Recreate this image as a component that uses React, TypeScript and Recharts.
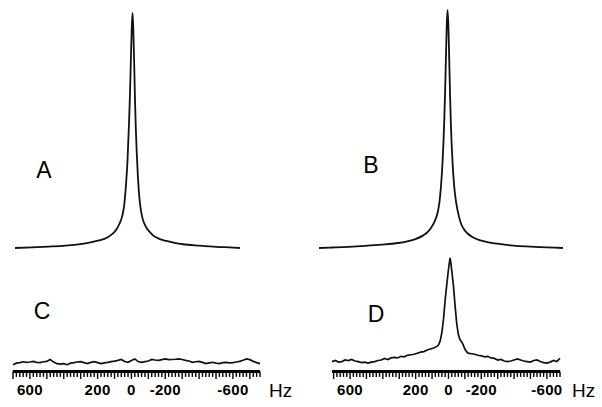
import React from "react";
import { Line, LineChart, XAxis, YAxis } from "recharts";

// spectrum A (top left), intensity in % of peak
const hzA = [700, 600, 500, 400, 300, 250, 200, 150, 120, 100, 80, 60, 50, 40, 30, 20, 15, 10, 5, 0, -5, -10, -15, -20, -30, -40, -50, -60, -80, -100, -120, -150, -200, -250, -300, -400, -500, -600, -640];
const ampA = [0, 0.3, 0.6, 1.0, 1.8, 2.4, 3.2, 4.5, 6, 7.5, 10, 14, 18, 26, 37, 55, 66, 80, 93, 100, 92, 78, 62, 50, 33, 22, 16, 12.5, 9, 7, 5.5, 4.2, 3, 2.2, 1.6, 1.0, 0.5, 0.2, 0];

// spectrum B (top right)
const hzB = [780, 700, 600, 500, 400, 300, 250, 200, 150, 120, 100, 80, 60, 50, 40, 30, 20, 15, 10, 5, 0, -5, -10, -15, -20, -30, -40, -50, -60, -80, -100, -120, -150, -200, -250, -300, -400, -500, -600, -700];
const ampB = [0, 0.2, 0.5, 0.9, 1.4, 2.1, 2.7, 3.6, 5.2, 6.8, 8.5, 11, 15, 19, 26, 37, 54, 66, 80, 94, 100, 93, 79, 64, 52, 36, 26, 20, 16, 10.5, 7.8, 6.2, 4.6, 3.2, 2.4, 1.8, 1.0, 0.6, 0.3, 0];

// spectrum C (bottom left, noise only)
const hzC = [700, 680, 660, 640, 620, 600, 580, 560, 540, 520, 500, 480, 460, 440, 420, 400, 380, 360, 340, 320, 300, 280, 260, 240, 220, 200, 180, 160, 140, 120, 100, 80, 60, 40, 20, 0, -20, -40, -60, -80, -100, -120, -140, -160, -180, -200, -220, -240, -260, -280, -300, -320, -340, -360, -380, -400, -420, -440, -460, -480, -500, -520, -540, -560, -580, -600, -620, -640, -660, -680, -700, -720, -740, -760];
const ampC = [-2, -0.5, 0, 0.8, 0.3, 0.6, 1.2, 0.2, 0, 0.8, 1.2, 3, 0.5, -1, -1.5, -1, -2, -0.5, 0, 0.6, 1, 0, -1, 0.2, 1, 0, -1, -0.2, 0.3, 1, 1.5, 2.2, 3, 1, 0.3, 2, 3.5, 1, 0.3, 1, 1.5, 3, 2.5, 2.2, 2.8, 3.5, 2.8, 3, 3.2, 3.5, 3, 2.2, 1.5, 0.3, 0.8, 1.2, 0.2, -1, -0.2, 0.3, -0.5, -1, 0, 0.3, -0.3, 0, 0.6, 1.2, 2.2, 3.5, 2.8, 1.2, 0, -1];

// spectrum D (bottom right)
const hzD = [710, 690, 670, 650, 630, 610, 590, 570, 550, 530, 510, 490, 470, 450, 430, 410, 390, 370, 350, 330, 310, 290, 270, 250, 230, 210, 190, 170, 150, 130, 110, 90, 70, 60, 50, 40, 30, 20, 10, 0, -5, -10, -15, -20, -30, -40, -50, -60, -70, -80, -90, -100, -110, -120, -140, -160, -180, -200, -220, -240, -260, -280, -300, -320, -340, -360, -380, -400, -420, -440, -460, -480, -500, -520, -540, -560, -580, -600, -620, -640, -660, -680];
const ampD = [1, 2, 0.5, 1, 2.5, 2, 3, 1.5, 1, 0, 0.5, -0.5, 0.5, 1, 2, 2.5, 4, 3, 4.5, 5, 4.5, 6, 5.5, 7, 7.5, 8, 9, 10, 10.5, 12, 13, 14, 15.5, 17, 21, 29, 42, 60, 75, 89, 95, 100, 95, 88, 74, 55, 38, 27, 22, 20, 17, 13, 10.5, 9, 8.5, 8, 7, 6.5, 5.5, 6, 4.5, 4, 2.5, 3, 1.5, 1, 1.5, 2.5, 3.5, 2.5, 1.5, 1, 0.5, 2, 2.5, 1, 0, -0.5, 0.5, 2, 1, 4];

// axis ticks (every 20 Hz), labelled ones
const ticksLeft = hzC;
const ticksRight = [700, 680, 660, 640, 620, 600, 580, 560, 540, 520, 500, 480, 460, 440, 420, 400, 380, 360, 340, 320, 300, 280, 260, 240, 220, 200, 180, 160, 140, 120, 100, 80, 60, 40, 20, 0, -20, -40, -60, -80, -100, -120, -140, -160, -180, -200, -220, -240, -260, -280, -300, -320, -340, -360, -380, -400, -420, -440, -460, -480, -500, -520, -540, -560, -580, -600, -620, -640, -660, -680];
const labelledTicks = [600, 200, 0, -200, -600];

const zip = (hz: number[], amp: number[]) => hz.map((h, i) => ({ hz: h, amp: amp[i] }));

const dataA = zip(hzA, ampA);
const dataB = zip(hzB, ampB);
const dataC = zip(hzC, ampC);
const dataD = zip(hzD, ampD);

const FONT = "'Liberation Sans', Arial, Helvetica, sans-serif";

const HzTick = (props: any) => {
  const { x, y, payload } = props;
  const v = payload.value;
  const major = v % 100 === 0;
  return (
    <g>
      <line x1={x} x2={x} y1={y} y2={y + (major ? 7.5 : 5.5)} stroke="#000" strokeWidth={1.4} />
      {labelledTicks.includes(v) && (
        <text
          x={x}
          y={y + 23.6}
          textAnchor="middle"
          fontSize={15}
          fontWeight="bold"
          fontFamily={FONT}
          letterSpacing={0.3}
          fill="#000"
        >
          {v}
        </text>
      )}
    </g>
  );
};

const TopSpectrum = ({ data, domain, left, width, margin }: any) => (
  <div style={{ position: "absolute", left, top: 0 }}>
    <LineChart width={width} height={260} data={data} margin={margin}>
      <XAxis type="number" dataKey="hz" domain={domain} reversed hide />
      <YAxis type="number" domain={[0, 100]} hide />
      <Line
        type="monotone"
        dataKey="amp"
        stroke="#111"
        strokeWidth={1.8}
        dot={false}
        isAnimationActive={false}
      />
    </LineChart>
  </div>
);

const BottomSpectrum = ({ data, domain, ticks, left, width, margin }: any) => (
  <div style={{ position: "absolute", left, top: 240 }}>
    <LineChart width={width} height={167} data={data} margin={margin}>
      <XAxis
        type="number"
        dataKey="hz"
        domain={domain}
        reversed
        ticks={ticks}
        interval={0}
        tick={<HzTick />}
        tickLine={false}
        tickSize={0}
        tickMargin={0}
        axisLine={{ stroke: "#000", strokeWidth: 3 }}
        height={35.6}
      />
      <YAxis type="number" domain={[-8.4, 100]} hide />
      <Line
        type="linear"
        dataKey="amp"
        stroke="#111"
        strokeWidth={1.7}
        dot={false}
        isAnimationActive={false}
      />
    </LineChart>
  </div>
);

export default function App() {
  return (
    <div
      style={{
        position: "absolute",
        left: 0,
        top: 0,
        width: 602,
        height: 407,
        background: "#fff",
        overflow: "hidden",
      }}
    >
      <TopSpectrum
        data={dataA}
        domain={[-640, 700]}
        left={0}
        width={260}
        margin={{ top: 13, right: 20, bottom: 12, left: 15 }}
      />
      <TopSpectrum
        data={dataB}
        domain={[-700, 780]}
        left={300}
        width={280}
        margin={{ top: 10, right: 17, bottom: 12, left: 19 }}
      />
      <BottomSpectrum
        data={dataC}
        domain={[-760, 700]}
        ticks={ticksLeft}
        left={0}
        width={280}
        margin={{ top: 18, right: 20, bottom: 0, left: 13 }}
      />
      <BottomSpectrum
        data={dataD}
        domain={[-680, 710]}
        ticks={ticksRight}
        left={300}
        width={280}
        margin={{ top: 18, right: 20, bottom: 0, left: 32 }}
      />
      <svg
        width={602}
        height={407}
        style={{ position: "absolute", left: 0, top: 0, pointerEvents: "none" }}
      >
        <g fontFamily={FONT} fontSize={23} fill="#000" textAnchor="middle">
          <text x={44} y={178}>A</text>
          <text x={371} y={173}>B</text>
          <text x={42} y={319}>C</text>
          <text x={376} y={322}>D</text>
        </g>
        <g fontFamily={FONT} fontSize={19} fill="#000">
          <text x={269} y={397}>Hz</text>
          <text x={572} y={397}>Hz</text>
        </g>
      </svg>
    </div>
  );
}
